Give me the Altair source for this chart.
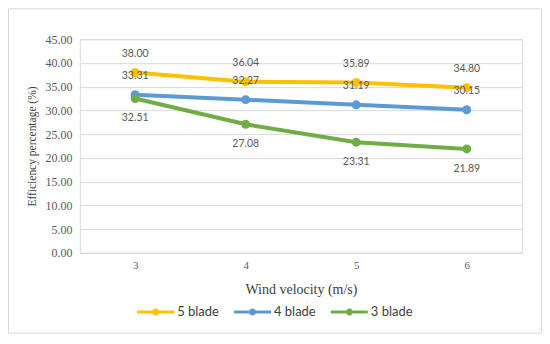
import altair as alt
import pandas as pd

wind = [3, 4, 5, 6]
series_names = ["5 blade", "4 blade", "3 blade"]
blade5 = [38.00, 36.04, 35.89, 34.80]
blade4 = [33.31, 32.27, 31.19, 30.15]
blade3 = [32.51, 27.08, 23.31, 21.89]
colors = ["#FFC000", "#5B9BD5", "#70AD47"]
label_dy = {"5 blade": -19, "4 blade": -19, "3 blade": 20}

rows = []
for name, vals in zip(series_names, [blade5, blade4, blade3]):
    for w, v in zip(wind, vals):
        rows.append({"wind": w, "eff": v, "series": name})
df = pd.DataFrame(rows)

serif = "Liberation Serif"
sans = "Lato"

x = alt.X("wind:O", scale=alt.Scale(type="point", padding=0.5),
          axis=alt.Axis(title="Wind velocity (m/s)", labelAngle=0, labelFont=serif,
                        labelFontSize=11, labelColor="#595959", ticks=False,
                        domainColor="#d9d9d9", labelPadding=7, titleFont=serif,
                        titleFontSize=14, titleFontWeight="normal", titleColor="#404040",
                        titlePadding=12))
y = alt.Y("eff:Q", scale=alt.Scale(domain=[0, 45], nice=False),
          axis=alt.Axis(title="Efficiency percentage (%)", values=list(range(0, 50, 5)),
                        format=".2f", labelFont=serif, labelFontSize=12,
                        labelColor="#595959", ticks=False, domain=False, labelPadding=8,
                        gridColor="#d9d9d9", titleFont=serif, titleFontSize=11.5,
                        titleFontWeight="normal", titleColor="#404040", titlePadding=7))
cscale = alt.Scale(domain=series_names, range=colors)

legend_path = ("M-5.3,-0.43L5.3,-0.43L5.3,0.43L-5.3,0.43Z"
               "M1,0A1,1,0,1,1,-1,0A1,1,0,1,1,1,0Z")
legend = alt.Legend(orient="none", legendX=69.5, legendY=266.5,
                    direction="horizontal", title=None,
                    symbolType=legend_path, symbolSize=49,
                    symbolStrokeWidth=0, symbolFillColor="#000000",
                    labelFont=sans, labelFontSize=13, labelColor="#404040",
                    labelOffset=15, columnPadding=14, padding=0)
color = alt.Color("series:N", scale=cscale, sort=series_names, legend=legend)

base = alt.Chart(df)
lines = base.mark_line(strokeWidth=4).encode(
    x=x, y=y, color=color, detail="series:N",
)
points = base.mark_point(filled=True, size=80, opacity=1).encode(
    x=x, y=y, color=color,
)
texts = []
for name in series_names:
    texts.append(
        base.transform_filter(alt.datum.series == name)
        .mark_text(font=sans, fontSize=10.5, color="#595959", dy=label_dy[name])
        .encode(x=x, y=y, text=alt.Text("eff:Q", format=".2f"))
    )
border = alt.Chart(alt.Data(values=[{}])).mark_rect(
    fill=None, stroke="#d9d9d9", strokeWidth=1
).encode(x=alt.value(-71.5), x2=alt.value(462.5), y=alt.value(-30.5), y2=alt.value(294.5))

chart = alt.layer(lines, points, *texts, border).properties(
    width=443, height=214,
    autosize=alt.AutoSizeParams(type="none"),
    padding={"left": 72, "top": 31, "right": 20, "bottom": 81},
).configure_view(stroke=None).configure(background="white")

chart.save("out.html", embed_options={"renderer": "svg", "actions": False})
